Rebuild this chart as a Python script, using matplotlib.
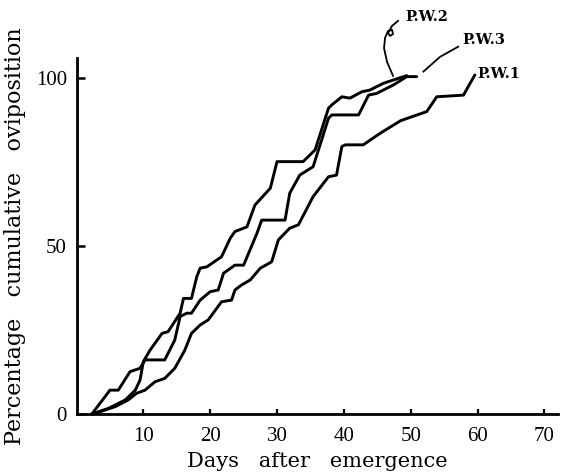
import matplotlib
matplotlib.use("Agg")
import matplotlib.pyplot as plt

# ---- data ----
pw2_days = [2.3, 4.8, 7.3, 8.8, 9.5, 10.0, 11.0, 12.8, 13.7, 15.5, 16.0, 17.2, 18.0, 18.5,
            19.5, 21.7, 23.0, 23.7, 25.5, 26.7, 29.0, 30.0, 33.9, 35.7, 37.7, 38.2, 39.7,
            40.9, 42.7, 43.9, 45.9, 47.4, 49.4]
pw2_pct = [0.0, 1.7, 4.2, 7.1, 10.1, 15.6, 19.0, 24.0, 24.5, 30.0, 34.4, 34.4, 40.9, 43.4,
           43.8, 46.8, 52.3, 54.3, 55.7, 62.2, 67.2, 75.1, 75.1, 78.6, 91.0, 92.0, 94.4,
           94.0, 95.9, 96.4, 98.4, 99.4, 100.7]

pw3_days = [2.3, 5.0, 6.25, 8.0, 9.5, 10.25, 13.2, 14.7, 15.5, 16.5, 17.2, 18.5, 20.0,
            21.2, 22.0, 23.7, 25.0, 27.0, 27.7, 31.2, 31.9, 33.4, 35.4, 37.7, 38.2, 42.2,
            43.7, 44.9, 47.4, 49.4, 50.9]
pw3_pct = [0.0, 7.1, 7.1, 12.6, 13.6, 16.1, 16.1, 22.0, 29.0, 30.0, 30.0, 33.9, 36.4,
           36.9, 41.9, 44.3, 44.3, 53.8, 57.7, 57.7, 65.7, 71.1, 73.6, 88.0, 89.0, 89.0,
           94.9, 95.4, 97.9, 100.4, 100.4]

pw1_days = [2.5, 5.8, 7.75, 9.0, 10.25, 11.75, 13.2, 14.7, 16.2, 17.2, 18.5, 19.7, 21.7,
            23.2, 23.7, 24.7, 26.0, 27.5, 29.2, 30.2, 31.9, 33.2, 35.4, 37.7, 38.9, 39.7,
            40.2, 42.9, 45.4, 48.5, 52.4, 53.9, 57.9, 58.6, 59.6]
pw1_pct = [0.0, 2.2, 4.2, 6.2, 7.1, 9.6, 10.6, 13.6, 19.0, 24.0, 26.5, 28.0, 33.4,
           33.9, 36.9, 38.4, 39.9, 43.4, 45.3, 51.8, 55.3, 56.3, 64.7, 70.6, 71.1, 79.6,
           80.1, 80.1, 83.5, 87.3, 90.0, 94.4, 94.9, 97.4, 100.9]

series_labels = ["P.W.1", "P.W.2", "P.W.3"]
x_ticks = [10, 20, 30, 40, 50, 60, 70]
y_ticks = [0, 50, 100]

# leader lines (data coordinates)
pw2_lead_x = [47.36, 46.46, 46.01, 46.16, 46.61, 47.21, 47.36, 46.91, 46.61, 47.21, 48.11]
pw2_lead_y = [100.6, 104.8, 108.9, 111.9, 114.0, 114.3, 113.1, 112.5, 113.4, 115.5, 117.0]
pw3_lead_x = [51.9, 54.4, 57.1]
pw3_lead_y = [101.9, 106.3, 109.3]

# ---- figure ----
fig = plt.figure(figsize=(5.66, 4.75), dpi=100)
ax = fig.add_axes([0.1352, 0.1284, 0.8502, 0.7499])

lw = 2.1
for d, p in [(pw1_days, pw1_pct), (pw2_days, pw2_pct), (pw3_days, pw3_pct)]:
    ax.plot(d, p, color="black", lw=lw, solid_joinstyle="round", solid_capstyle="round",
            clip_on=False)

ax.plot(pw2_lead_x, pw2_lead_y, color="black", lw=1.3, clip_on=False,
        solid_joinstyle="round")
ax.plot(pw3_lead_x, pw3_lead_y, color="black", lw=1.3, clip_on=False)

lab_font = dict(family="DejaVu Serif", fontsize=10.5, fontweight="bold", va="center", ha="left")
ax.text(49.15, 118.2, series_labels[1], clip_on=False, **lab_font)
ax.text(57.8, 111.3, series_labels[2], clip_on=False, **lab_font)
ax.text(59.9, 101.2, series_labels[0], clip_on=False, **lab_font)

ax.set_xlim(0, 72)
ax.set_ylim(0, 106)
ax.spines["top"].set_visible(False)
ax.spines["right"].set_visible(False)
for s in ["left", "bottom"]:
    ax.spines[s].set_linewidth(2.0)

ax.set_xticks(x_ticks)
ax.set_yticks(y_ticks)
tick_font = "Liberation Serif"
ax.set_xticklabels([str(t) for t in x_ticks], fontfamily=tick_font, fontsize=15)
ax.set_yticklabels([str(t) for t in y_ticks], fontfamily=tick_font, fontsize=15)
ax.tick_params(axis="x", direction="in", length=3.5, width=1.6, pad=9)
ax.tick_params(axis="y", direction="in", length=6, width=1.8, pad=7)

ax.set_xlabel("Days   after   emergence", fontfamily="DejaVu Serif", fontsize=15, labelpad=5)
ax.set_ylabel("Percentage   cumulative   oviposition", fontfamily="DejaVu Serif", fontsize=16,
              labelpad=7)

fig.savefig("out.png", dpi=100)
